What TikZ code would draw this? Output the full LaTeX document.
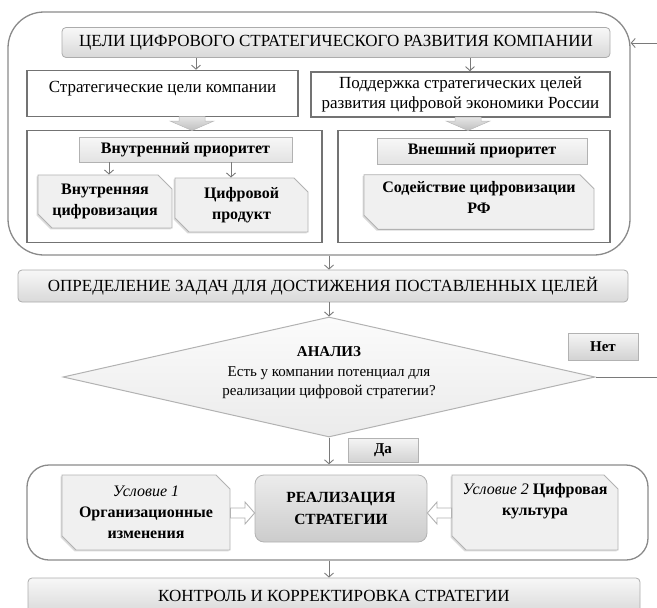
\documentclass[tikz,border=0pt]{standalone}
\usepackage{fontspec}
\setmainfont{Liberation Serif}
\usetikzlibrary{shapes.geometric,shapes.misc,calc,arrows.meta,shadows}
\definecolor{ln}{HTML}{7A7A7A}
\definecolor{ol}{HTML}{8A8A8A}
\newcommand\fbig{\fontsize{17}{20}\selectfont}
\newcommand\fmid{\fontsize{16}{20.5}\selectfont}
\newcommand\fsm{\fontsize{15}{19.5}\selectfont}
\begin{document}
\begin{tikzpicture}[x=1pt,y=-1pt,
  font=\fsm,
  every node/.style={inner sep=0pt, align=center},
  outerbox/.style={draw=ol, line width=1.3pt},
  wbox/.style={draw=black!55, line width=1.6pt, fill=white, font=\fbig},
  hdr/.style={draw=gray!65, line width=0.8pt, rounded corners=4pt, top color=gray!6, bottom color=gray!30, font=\fbig},
  gbox/.style={draw=gray!60, line width=0.8pt, top color=gray!6, bottom color=gray!22, font=\fmid\bfseries},
  btn/.style={draw=gray!60, line width=0.8pt, top color=gray!8, bottom color=gray!35, font=\fsm\bfseries},
  realbox/.style={draw=gray!60, line width=0.8pt, rounded corners=9pt, top color=gray!15, bottom color=gray!40,
    font=\fontsize{15.5}{22}\selectfont\bfseries},
  snip/.style={chamfered rectangle, chamfered rectangle corners={north east,south west},
    chamfered rectangle xsep=7pt, chamfered rectangle ysep=7pt,
    draw=gray!60, line width=0.9pt, fill=gray!12, font=\fmid\bfseries,
    drop shadow={shadow xshift=-1.4pt, shadow yshift=-1.4pt, fill=gray!70, opacity=0.4}},
  sarr/.style={draw=ln, line width=0.9pt, -{Straight Barb[length=4pt,width=9pt]}},
  barr/.style={draw=gray!55, line width=0.5pt, top color=gray!20, bottom color=gray!50},
  harr/.style={draw=gray!60, line width=0.9pt, fill=white}]
\useasboundingbox (0,0) rectangle (657,608);
\clip (0,0) rectangle (657,608);

% ---------- upper block ----------
\node[outerbox, rounded corners=36pt, minimum width=622pt, minimum height=243pt] (outer1) at (319,133.5) {};
\node[hdr, minimum width=548pt, minimum height=30pt] (hdr) at (336,42.5) {ЦЕЛИ ЦИФРОВОГО СТРАТЕГИЧЕСКОГО РАЗВИТИЯ КОМПАНИИ};
\node[wbox, minimum width=271pt, minimum height=46pt, text depth=13pt] (lbox) at (162.5,93.5) {Стратегические цели компании};
\node[wbox, minimum width=299pt, minimum height=45pt] (rbox) at (460.5,94.5) {Поддержка стратегических целей\\развития цифровой экономики России};
\node[wbox, minimum width=295pt, minimum height=112pt] (lcont) at (174.5,186.5) {};
\node[wbox, minimum width=272pt, minimum height=112pt] (rcont) at (474,186.5) {};
\node[gbox, minimum width=213pt, minimum height=25pt] (vnp) at (185.5,149.5) {Внутренний приоритет};
\node[snip, minimum width=134pt, minimum height=53pt] (sn1) at (105,201.5) {Внутренняя\\цифровизация};
\node[snip, minimum width=133pt, minimum height=54pt] (sn2) at (241.5,205) {Цифровой\\продукт};
\node[gbox, minimum width=210pt, minimum height=26pt] (vnesh) at (482,151) {Внешний приоритет};
\node[snip, minimum width=230pt, minimum height=52pt, text depth=9pt] (sod) at (479,202) {Содействие цифровизации\\РФ};

\draw[sarr] (hdr.south -| 196,0) -- (lbox.north -| 196,0);
\draw[sarr] (hdr.south -| 470,0) -- (rbox.north -| 470,0);
\draw[sarr] (vnp.south -| 109,0) -- (sn1.north -| 109,0);
\draw[sarr] (vnp.south -| 231,0) -- (sn2.north -| 231,0);

% block arrows
\path[barr] (179,116.5) -- (205,116.5) -- (205,121) -- (214,121) -- (192,130.5) -- (170,121) -- (179,121) -- cycle;
\path[barr] (455,117) -- (481,117) -- (481,121) -- (490,121) -- (468,130.5) -- (446,121) -- (455,121) -- cycle;

% incoming feedback arrow
\coordinate (fbin) at (657,43);
\draw[sarr] (fbin) -- (outer1.east |- fbin);

% ---------- tasks ----------
\node[hdr, minimum width=610pt, minimum height=32pt] (opr) at (323,286) {ОПРЕДЕЛЕНИЕ ЗАДАЧ ДЛЯ ДОСТИЖЕНИЯ ПОСТАВЛЕННЫХ ЦЕЛЕЙ};
\node[diamond, draw=gray!60, line width=1pt, top color=gray!3, bottom color=gray!16, shape aspect=4.4,
      minimum width=532pt, minimum height=120pt] (dia) at (329,377) {};
\node at (329,373) (diatext) {\bfseries АНАЛИЗ\\Есть у компании потенциал для\\реализации цифровой стратегии?};
\draw[sarr] (dia.north |- outer1.south) -- (dia.north |- opr.north);
\draw[sarr] (dia.north |- opr.south) -- (dia.north);

\node[btn, minimum width=70pt, minimum height=27pt] (net) at (603,346.5) {Нет};
\coordinate (fbout) at (657,377);
\draw[draw=ln, line width=0.9pt] (dia.east) -- (fbout);

\node[btn, minimum width=70pt, minimum height=24pt] (da) at (383,450) {Да};

% ---------- realisation ----------
\node[outerbox, rounded corners=22pt, minimum width=621pt, minimum height=95pt] (low) at (337.5,512.5) {};
\draw[sarr] (dia.south) -- (dia.south |- low.north);
\node[snip, minimum width=168pt, minimum height=75pt, font=\fontsize{16}{21}\selectfont] (usl1) at (146,512.5) {\itshape Условие 1\\\bfseries Организационные\\\bfseries изменения};
\node[realbox, minimum width=172pt, minimum height=67pt] (real) at (341,508.5) {РЕАЛИЗАЦИЯ\\СТРАТЕГИИ};
\node[snip, minimum width=166pt, minimum height=75pt, text depth=27pt, font=\fontsize{16}{21}\selectfont] (usl2) at (535,512.5) {{\itshape Условие 2} \bfseries Цифровая\\\bfseries культура};

\draw[harr] (usl1.east |- 0,508) -- (245,508) -- (245,502) -- (real.west |- 0,513) -- (245,524) -- (245,518) -- (usl1.east |- 0,518) -- cycle;
\draw[harr] (usl2.west |- 0,508) -- (437,508) -- (437,502) -- (real.east |- 0,513) -- (437,524) -- (437,518) -- (usl2.west |- 0,518) -- cycle;

% ---------- control ----------
\node[hdr, minimum width=612pt, minimum height=36pt] (ctrl) at (334,596) {КОНТРОЛЬ И КОРРЕКТИРОВКА СТРАТЕГИИ};
\draw[sarr] (dia.south |- low.south) -- (dia.south |- ctrl.north);
\end{tikzpicture}
\end{document}
